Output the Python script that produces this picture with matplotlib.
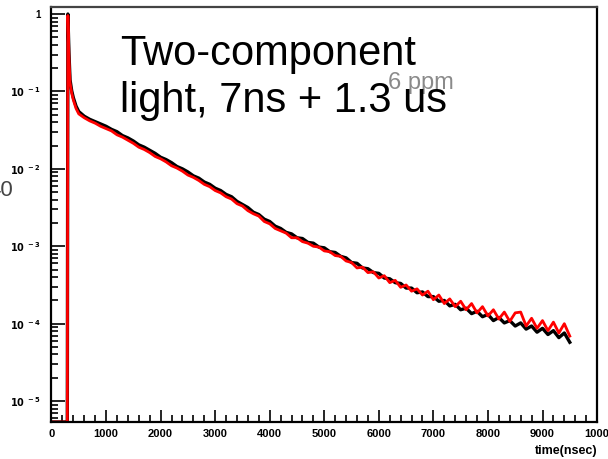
import numpy as np
import matplotlib
matplotlib.use("Agg")
import matplotlib.pyplot as plt
from matplotlib.ticker import FixedLocator, MultipleLocator, LogLocator, NullFormatter

plt.rcParams['font.family'] = ['Liberation Sans', 'DejaVu Sans']

# time bins (ns) and log10 of the normalised pulse shape
t_head = [0, 290, 300, 320, 340, 370, 400, 450, 500]
t_tail = list(range(600, 9501, 100))
time = t_head + t_tail

black_log = [-5.27, -5.27, 0.0, -0.50, -0.85, -0.99, -1.08, -1.19, -1.26,
             -1.32, -1.36, -1.39, -1.42, -1.45, -1.49, -1.52, -1.57, -1.60, -1.64,
             -1.69, -1.72, -1.76, -1.80, -1.85, -1.88, -1.92, -1.97, -2.00, -2.04,
             -2.09, -2.12, -2.17, -2.20, -2.25, -2.28, -2.33, -2.36, -2.42, -2.46,
             -2.50, -2.56, -2.59, -2.65, -2.68, -2.74, -2.77, -2.82, -2.84, -2.89,
             -2.90, -2.95, -2.96, -3.01, -3.02, -3.07, -3.08, -3.13, -3.15, -3.21,
             -3.22, -3.28, -3.29, -3.34, -3.35, -3.41, -3.42, -3.47, -3.48, -3.54,
             -3.54, -3.60, -3.59, -3.65, -3.65, -3.71, -3.70, -3.77, -3.75, -3.82,
             -3.80, -3.87, -3.84, -3.91, -3.88, -3.96, -3.92, -3.99, -3.96, -4.03,
             -3.99, -4.07, -4.03, -4.11, -4.06, -4.14, -4.09, -4.18, -4.12, -4.24]

red_log = [-5.27, -5.27, -0.02, -0.55, -0.89, -1.02, -1.11, -1.22, -1.29,
           -1.34, -1.38, -1.41, -1.45, -1.48, -1.51, -1.56, -1.59, -1.63, -1.67,
           -1.72, -1.75, -1.79, -1.84, -1.87, -1.91, -1.96, -1.99, -2.03, -2.08,
           -2.11, -2.15, -2.20, -2.23, -2.28, -2.31, -2.36, -2.39, -2.45, -2.48,
           -2.54, -2.58, -2.61, -2.68, -2.71, -2.77, -2.80, -2.83, -2.89, -2.89,
           -2.94, -2.96, -3.00, -3.01, -3.06, -3.07, -3.12, -3.13, -3.19, -3.21,
           -3.28, -3.27, -3.34, -3.33, -3.41, -3.38, -3.47, -3.44, -3.53, -3.50,
           -3.58, -3.55, -3.63, -3.58, -3.69, -3.63, -3.74, -3.68, -3.78, -3.71,
           -3.82, -3.74, -3.86, -3.78, -3.90, -3.82, -3.94, -3.85, -3.97, -3.86,
           -3.85, -4.03, -3.93, -4.06, -3.96, -4.09, -3.98, -4.12, -4.00, -4.16]

ytick_vals = [1, 1e-1, 1e-2, 1e-3, 1e-4, 1e-5]
ytick_labels = ['1', r'$\mathbf{10^{\ -1}}$', r'$\mathbf{10^{\ -2}}$', r'$\mathbf{10^{\ -3}}$',
                r'$\mathbf{10^{\ -4}}$', r'$\mathbf{10^{\ -5}}$']
xtick_vals = [0, 1000, 2000, 3000, 4000, 5000, 6000, 7000, 8000, 9000, 10000]
xtick_labels = ['0', '1000', '2000', '3000', '4000', '5000', '6000', '7000', '8000', '9000', '1000']

black = 10.0 ** np.array(black_log)
red = 10.0 ** np.array(red_log)

fig = plt.figure(figsize=(6.08, 4.59), dpi=100)
ax = fig.add_axes([0.0847, 0.0806, 0.8973, 0.9035])

ax.plot(time, black, color='black', lw=2.4)
ax.plot(time, red, color='#ff0000', lw=2.0)

ax.set_yscale('log')
ax.set_xlim(0, 10000)
ax.set_ylim(10 ** -5.27, 10 ** 0.087)

ax.yaxis.set_major_locator(FixedLocator(ytick_vals))
ax.set_yticklabels(ytick_labels)
ax.yaxis.set_minor_locator(LogLocator(base=10, subs=np.arange(2, 10)))
ax.yaxis.set_minor_formatter(NullFormatter())
ax.set_xticks(xtick_vals)
ax.set_xticklabels(xtick_labels)
ax.xaxis.set_minor_locator(MultipleLocator(200))

ax.tick_params(which='both', direction='in', top=False, right=False, width=1.2)
ax.tick_params(axis='y', which='major', length=10, pad=8, labelsize=7)
ax.tick_params(axis='y', which='minor', length=5)
ax.tick_params(axis='x', which='major', length=9, pad=5, labelsize=8)
ax.tick_params(axis='x', which='minor', length=5)
for lab in ax.get_xticklabels():
    lab.set_fontweight('bold')
for lab in ax.get_yticklabels():
    lab.set_fontweight('bold')

for side in ['left', 'bottom', 'right']:
    ax.spines[side].set_linewidth(1.6)
ax.spines['top'].set_linewidth(1.6)
ax.spines['top'].set_color('#444444')

fig.text(0.982, 0.004, 'time(nsec)', ha='right', va='bottom', fontsize=9, fontweight='bold')

# leftovers from the original slide, partly hidden behind the annotation
fig.text(0.692, 0.806, '6 ppm', ha='center', va='baseline', fontsize=17, color='#8a8a8a', zorder=1)
fig.text(0.022, 0.586, '40', ha='right', va='center', fontsize=16, color='#444444')

fig.text(0.197, 0.756, 'Two-component\nlight, 7ns + 1.3 us', ha='left', va='baseline',
         fontsize=30, color='black', linespacing=1.23, zorder=5)

fig.savefig('out.png', dpi=100)
